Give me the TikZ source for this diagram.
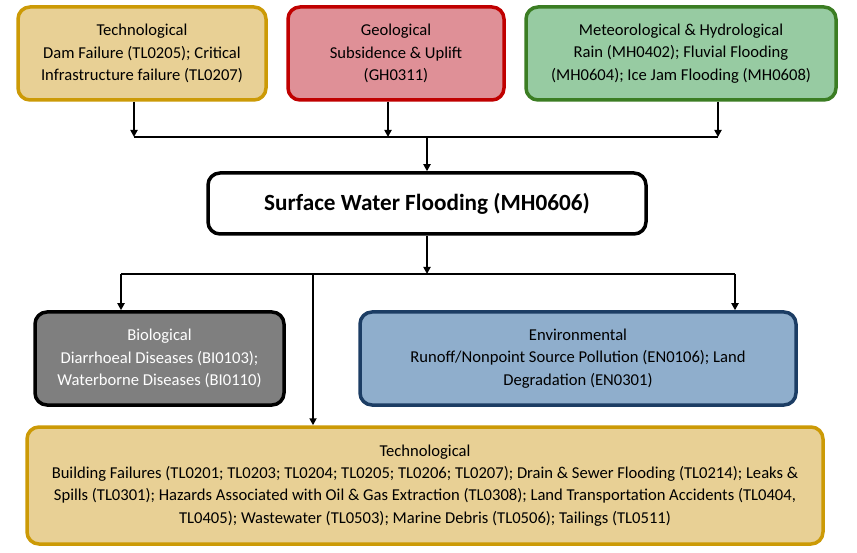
\documentclass[tikz,border=0pt]{standalone}
\usepackage{fontspec}
\setmainfont{Carlito}
\usetikzlibrary{arrows.meta}
\definecolor{goldB}{HTML}{CC9A06}
\definecolor{goldF}{HTML}{E8D095}
\definecolor{redB}{HTML}{C00000}
\definecolor{redF}{HTML}{DF9097}
\definecolor{grnB}{HTML}{3B7D23}
\definecolor{grnF}{HTML}{97CBA2}
\definecolor{grayF}{HTML}{7F7F7F}
\definecolor{bluB}{HTML}{1C3D64}
\definecolor{bluF}{HTML}{8FAECC}
\begin{document}
\begin{tikzpicture}[x=1pt,y=-1pt,
  box/.style={draw, rounded corners=12pt, line width=3.5pt, align=center,
    font=\fontsize{16.6}{22.3}\selectfont, inner sep=0pt},
  arr/.style={line width=2pt, -{Triangle[length=7pt,width=7pt]}},
  link/.style={line width=1.3pt}]
\useasboundingbox (0,0) rectangle (857,553);
\fill[white] (0,0) rectangle (857,553);
% top row
\node[box, draw=goldB, fill=goldF, minimum width=248pt, minimum height=93pt] (tech1) at (142,53.5)
  {Technological\\Dam Failure (TL0205); Critical\\Infrastructure failure (TL0207)};
\node[box, draw=redB, fill=redF, minimum width=216pt, minimum height=93pt] (geo) at (396,53.5)
  {Geological\\Subsidence \& Uplift\\(GH0311)};
\node[box, draw=grnB, fill=grnF, minimum width=310pt, minimum height=93pt] (met) at (681,53.5)
  {Meteorological \& Hydrological\\Rain (MH0402); Fluvial Flooding\\(MH0604); Ice Jam Flooding (MH0608)};
% centre
\node[box, draw=black, fill=white, minimum width=438pt, minimum height=61pt] (surf) at (427,203.5)
  {\fontsize{23.2}{26}\selectfont\bfseries Surface Water Flooding (MH0606)};
% middle row
\node[box, draw=black, fill=grayF, text=white, minimum width=249pt, minimum height=93pt] (bio) at (159.5,358.5)
  {Biological\\Diarrhoeal Diseases (BI0103);\\Waterborne Diseases (BI0110)};
\node[box, draw=bluB, fill=bluF, minimum width=436pt, minimum height=93pt] (env) at (578,358.5)
  {Environmental\\Runoff/Nonpoint Source Pollution (EN0106); Land\\Degradation (EN0301)};
% bottom
\node[box, draw=goldB, fill=goldF, minimum width=796pt, minimum height=117pt] (tech2) at (425,485.5)
  {Technological\\Building Failures (TL0201; TL0203; TL0204; TL0205; TL0206; TL0207); Drain \& Sewer Flooding (TL0214); Leaks \&\\Spills (TL0301); Hazards Associated with Oil \& Gas Extraction (TL0308); Land Transportation Accidents (TL0404,\\TL0405); Wastewater (TL0503); Marine Debris (TL0506); Tailings (TL0511)};
% upper connectors
\coordinate (a1) at (134,137);
\coordinate (a2) at (388,137);
\coordinate (a3) at (718,137);
\coordinate (am) at (427,137);
\draw[arr] (a1 |- tech1.south) -- (a1);
\draw[arr] (a2 |- geo.south) -- (a2);
\draw[arr] (a3 |- met.south) -- (a3);
\draw[link] (a1) -- (a3);
\draw[arr] (am) -- (surf.north);
% lower connectors
\coordinate (bm) at (427,274);
\coordinate (b1) at (121,274);
\coordinate (b2) at (313,274);
\coordinate (b3) at (735,274);
\draw[arr] (surf.south) -- (bm);
\draw[link] (b1) -- (b3);
\draw[arr] (b1) -- (b1 |- bio.north);
\draw[arr] (b3) -- (b3 |- env.north);
\draw[arr] (b2) -- (b2 |- tech2.north);
\end{tikzpicture}
\end{document}
